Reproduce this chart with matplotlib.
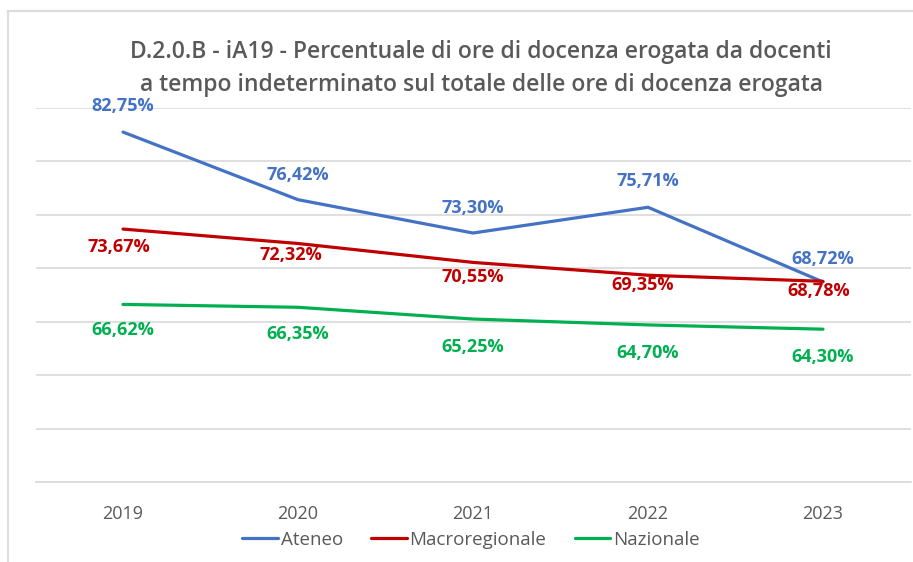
import matplotlib
matplotlib.use("Agg")
import matplotlib.pyplot as plt
from matplotlib.lines import Line2D

years = ["2019", "2020", "2021", "2022", "2023"]
ateneo = [82.75, 76.42, 73.30, 75.71, 68.72]
macroregionale = [73.67, 72.32, 70.55, 69.35, 68.78]
nazionale = [66.62, 66.35, 65.25, 64.70, 64.30]
series_names = ["Ateneo", "Macroregionale", "Nazionale"]
title_lines = ["D.2.0.B - iA19 - Percentuale di ore di docenza erogata da docenti",
               "a tempo indeterminato sul totale delle ore di docenza erogata"]

colors = ["#4472C4", "#C00000", "#00B050"]
# label offsets (pixels) per point
offsets = [
    [(0, 26), (0, 25), (0, 25), (0, 26), (0, 23)],
    [(-4, -18), (-7, -12), (0, -15), (-5, -10), (-4, -10)],
    [(0, -26), (0, -27), (0, -28), (0, -28), (0, -28)],
]

FONT = ["Open Sans", "DejaVu Sans"]
plt.rcParams["font.family"] = FONT
GRAY = "#595959"
GRID = "#D9D9D9"

W, H = 913, 562
fig = plt.figure(figsize=(W / 100, H / 100), dpi=100)
fig.patch.set_facecolor("white")

# outer chart border (left and top visible)
fig.add_artist(Line2D([8 / W, 8 / W], [0, 1 - 11 / H], transform=fig.transFigure,
                      color="#DDDDDD", lw=1.6))
fig.add_artist(Line2D([8 / W, 1], [1 - 11 / H, 1 - 11 / H], transform=fig.transFigure,
                      color="#DDDDDD", lw=1.6))

ax = fig.add_axes([35.5 / W, 1 - 482 / H, 875 / W, (482 - 108) / H])
ax.set_xlim(-0.5, len(years) - 0.5)
ax.set_ylim(50, 85)
ax.set_yticks(range(50, 86, 5))
ax.yaxis.grid(True, color=GRID, lw=1.2)
ax.set_axisbelow(True)
for s in ["top", "right", "left"]:
    ax.spines[s].set_visible(False)
ax.spines["bottom"].set_color(GRID)
ax.spines["bottom"].set_linewidth(1.2)
ax.tick_params(axis="y", left=False, labelleft=False)
ax.set_xticks(range(len(years)))
ax.set_xticklabels(years)
ax.tick_params(axis="x", bottom=False, pad=13, labelsize=13, labelcolor=GRAY)

x = list(range(len(years)))
data = [ateneo, macroregionale, nazionale]
handles = []
for vals, name, c, offs in zip(data, series_names, colors, offsets):
    h, = ax.plot(x, vals, color=c, lw=2.3, label=name, solid_capstyle="round",
                 solid_joinstyle="round")
    handles.append(h)
    for xi, v, (dx, dy) in zip(x, vals, offs):
        lbl = f"{v:.2f}".replace(".", ",") + "%"
        ax.annotate(lbl, (xi, v), xytext=(dx, dy), textcoords="offset pixels",
                    ha="center", va="center", color=c, fontsize=13,
                    fontweight="bold", annotation_clip=False)

fig.text(481 / W, 1 - 52 / H, title_lines[0], ha="center", va="center",
         fontsize=16.5, fontweight="semibold", color=GRAY)
fig.text(481 / W, 1 - 85 / H, title_lines[1], ha="center", va="center",
         fontsize=16.5, fontweight="semibold", color=GRAY)

leg = fig.legend(handles=handles, labels=series_names, loc="center",
                 bbox_to_anchor=(471 / W, 1 - 540 / H), ncol=3, frameon=False,
                 fontsize=13.5, handlelength=1.9, handletextpad=0.15,
                 columnspacing=1.5)
for t in leg.get_texts():
    t.set_color(GRAY)

fig.savefig("out.png", dpi=100, facecolor="white")
